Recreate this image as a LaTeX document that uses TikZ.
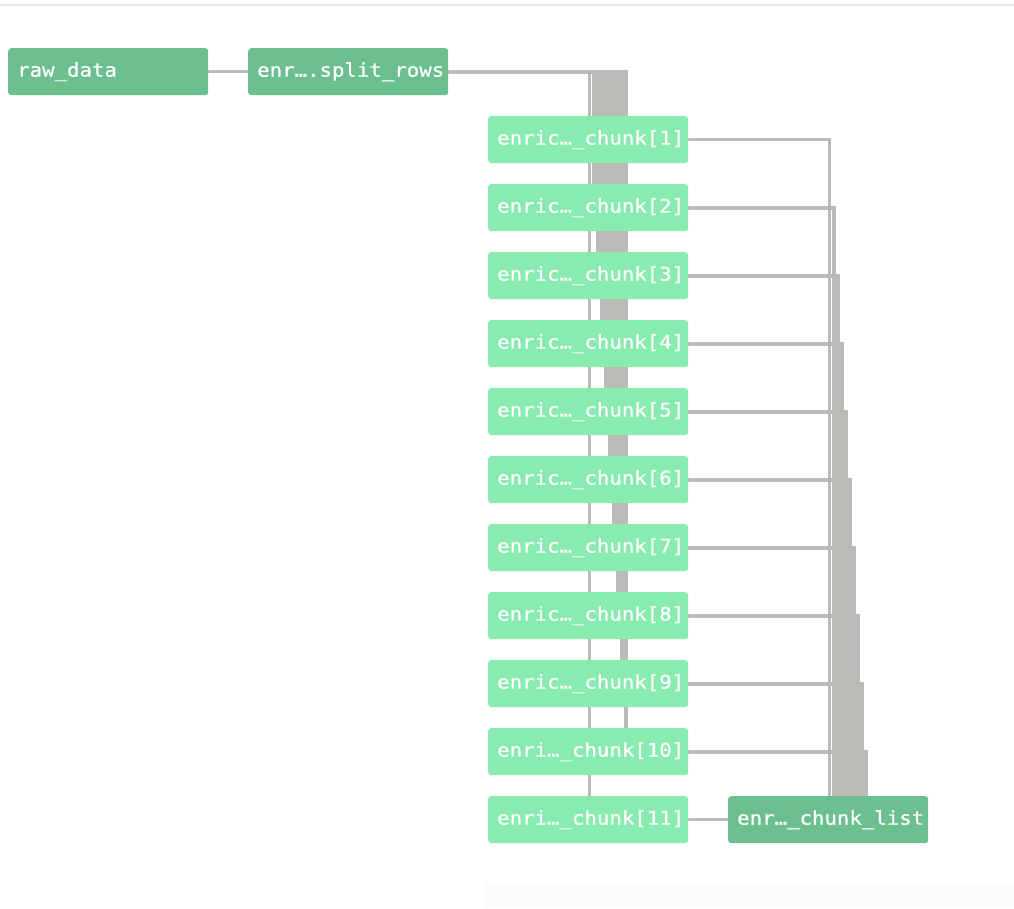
\documentclass[tikz,border=0pt]{standalone}
\usepackage{fontspec}
\newfontfamily\nodefont{DejaVu Sans Mono}[FakeStretch=1.09,FakeBold=0.6]
\usetikzlibrary{backgrounds}
\definecolor{darkgreen}{HTML}{6CBF8E}
\definecolor{lightgreen}{HTML}{88EBAF}
\definecolor{edgegray}{HTML}{BCBBB7}
\definecolor{toplinecol}{HTML}{E6E6E6}
\definecolor{faintcol}{HTML}{FBFBFA}
\begin{document}
\begin{tikzpicture}[x=1pt,y=-1pt,
  box/.style={anchor=north west, rounded corners=3pt, text=white,
    font={\nodefont\fontsize{19pt}{21pt}\selectfont},
    minimum height=47pt, text width=182pt, inner xsep=9pt, inner ysep=0pt, align=left},
  dark/.style={box, fill=darkgreen},
  light/.style={box, fill=lightgreen},
  edge/.style={draw=edgegray, line width=3.4pt},
  fanedge/.style={draw=edgegray, line width=4.3pt}]
\useasboundingbox (0,0) rectangle (1014,908);
\draw[toplinecol, line width=2pt] (0,5) -- (1014,5);
\fill[faintcol] (485,884) rectangle (1014,908);

\node[dark] (raw) at (8,48) {raw\_data};
\node[dark] (split) at (248,48) {enr….split\_rows};
\node[light] (c1) at (488,116) {enric…\_chunk[1]};
\node[light] (c2) at (488,184) {enric…\_chunk[2]};
\node[light] (c3) at (488,252) {enric…\_chunk[3]};
\node[light] (c4) at (488,320) {enric…\_chunk[4]};
\node[light] (c5) at (488,388) {enric…\_chunk[5]};
\node[light] (c6) at (488,456) {enric…\_chunk[6]};
\node[light] (c7) at (488,524) {enric…\_chunk[7]};
\node[light] (c8) at (488,592) {enric…\_chunk[8]};
\node[light] (c9) at (488,660) {enric…\_chunk[9]};
\node[light] (c10) at (488,728) {enri…\_chunk[10]};
\node[light] (c11) at (488,796) {enri…\_chunk[11]};
\node[dark] (list) at (728,796) {enr…\_chunk\_list};

\begin{scope}[on background layer]
\draw[edge] (raw.east) -- (split.west);
\foreach \k in {2,...,10}
  \draw[fanedge] (split.east) -| ([xshift={102+4*(\k-1)}]c\k.north west);
\draw[edge] (split.east) -| ([xshift=101.5]c1.north west);
\draw[edge] (split.east) -| ([xshift=101.5]c11.north west);
\draw[edge] (c1.east) -| ([xshift=101.5]list.north west);
\foreach \k in {2,...,10}
  \draw[fanedge] (c\k.east) -| ([xshift={102+4*(\k-1)}]list.north west);
\draw[edge] (c11.east) -- (list.west);
\end{scope}
\end{tikzpicture}
\end{document}
